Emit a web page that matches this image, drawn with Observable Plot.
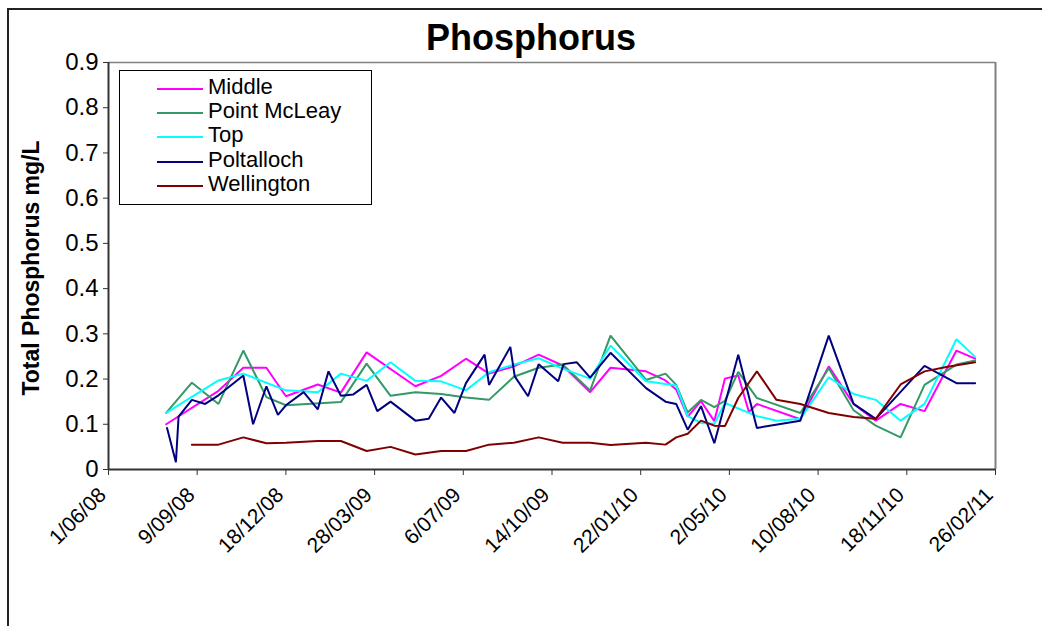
<!DOCTYPE html>
<html>
<head>
<meta charset="utf-8">
<script src="https://cdn.jsdelivr.net/npm/d3@7"></script>
<script src="https://cdn.jsdelivr.net/npm/@observablehq/plot@0.6"></script>
<style>
  html, body { margin: 0; padding: 0; background: #fff; }
  body { font-family: Arial, "Liberation Sans", sans-serif; }
  #wrap { position: relative; width: 1042px; height: 626px; overflow: hidden; }
  #frame { position: absolute; left: 7px; top: 8px; width: 1100px; height: 700px;
           border-left: 2px solid #222; border-top: 2px solid #222; }
  #chart { position: absolute; left: 0; top: 0; }
  #title { position: absolute; left: 331px; width: 400px; top: 20px; text-align: center;
           font-size: 36px; line-height: 36px; font-weight: bold; color: #000; }
  #ylabel { position: absolute; left: -119px; width: 300px; top: 256px; height: 24px;
            line-height: 24px; text-align: center; font-size: 23px; font-weight: bold;
            transform: rotate(-90deg); white-space: nowrap; color: #000; }
  #legend { position: absolute; left: 119px; top: 70px; width: 251px; height: 133px;
            border: 1px solid #000; background: #fff; }
  .row { position: absolute; left: 0; height: 24px; line-height: 24px; font-size: 22px;
         white-space: nowrap; color: #000; }
  .sw { position: absolute; left: 37px; width: 46px; height: 0; border-top: 2px solid; }
  .lab { position: absolute; left: 88px; }
</style>
</head>
<body>
<div id="wrap">
  <div id="frame"></div>
  <div id="chart"></div>
  <div id="title">Phosphorus</div>
  <div id="ylabel">Total Phosphorus mg/L</div>
  <div id="legend"></div>
</div>
<script>
// ---- data ----
const seriesNames = ["Middle", "Point McLeay", "Top", "Poltalloch", "Wellington"];
const seriesColors = ["#FF00FF", "#339966", "#00FFFF", "#000080", "#800000"];

const middleDates = ["2008-08-05","2008-10-03","2008-10-31","2008-11-26","2008-12-18","2009-01-23","2009-02-18","2009-03-19","2009-05-13","2009-06-11","2009-07-09","2009-08-04","2009-09-01","2009-09-29","2009-10-26","2009-11-26","2009-12-19","2010-01-28","2010-02-19","2010-03-03","2010-03-16","2010-03-31","2010-04-15","2010-04-27","2010-05-12","2010-05-24","2010-06-02","2010-07-21","2010-08-22","2010-09-19","2010-10-14","2010-11-11","2010-12-08","2011-01-13","2011-02-03"];
const middleValues = [0.100,0.174,0.225,0.225,0.162,0.188,0.170,0.259,0.184,0.207,0.245,0.212,0.228,0.254,0.230,0.171,0.225,0.217,0.197,0.177,0.117,0.151,0.107,0.201,0.208,0.127,0.145,0.111,0.228,0.145,0.108,0.145,0.129,0.263,0.245];

const pointMcLeayDates = ["2008-08-05","2008-09-03","2008-10-03","2008-10-31","2008-11-26","2008-12-18","2009-02-18","2009-03-19","2009-04-15","2009-05-13","2009-06-11","2009-07-09","2009-08-04","2009-09-01","2009-09-29","2009-10-26","2009-11-26","2009-12-19","2010-01-28","2010-02-19","2010-03-03","2010-03-16","2010-03-31","2010-04-15","2010-04-27","2010-05-12","2010-06-02","2010-07-21","2010-08-22","2010-09-19","2010-10-14","2010-11-11","2010-12-08","2011-01-13","2011-02-03"];
const pointMcLeayValues = [0.125,0.192,0.145,0.263,0.160,0.142,0.149,0.234,0.163,0.171,0.167,0.159,0.154,0.205,0.225,0.232,0.175,0.296,0.198,0.212,0.187,0.126,0.154,0.138,0.152,0.216,0.158,0.125,0.224,0.131,0.097,0.071,0.187,0.232,0.241];

const topDates = ["2008-08-05","2008-10-03","2008-10-31","2008-12-18","2009-01-23","2009-02-18","2009-03-19","2009-04-15","2009-05-13","2009-06-11","2009-07-09","2009-08-04","2009-09-01","2009-09-29","2009-10-26","2009-11-26","2009-12-19","2010-01-28","2010-03-03","2010-03-16","2010-03-31","2010-04-15","2010-04-27","2010-06-02","2010-06-24","2010-07-21","2010-08-22","2010-09-19","2010-10-14","2010-11-11","2010-12-08","2011-01-13","2011-02-03"];
const topValues = [0.125,0.197,0.212,0.175,0.171,0.212,0.196,0.237,0.196,0.195,0.175,0.215,0.232,0.246,0.223,0.201,0.274,0.195,0.186,0.118,0.103,0.101,0.147,0.118,0.108,0.112,0.204,0.167,0.154,0.108,0.145,0.288,0.249];

const poltallochDates = ["2008-08-06","2008-08-16","2008-08-19","2008-09-03","2008-09-18","2008-10-03","2008-10-31","2008-11-11","2008-11-26","2008-12-09","2008-12-18","2009-01-07","2009-01-23","2009-02-04","2009-02-18","2009-03-04","2009-03-19","2009-03-31","2009-04-15","2009-05-13","2009-05-28","2009-06-11","2009-06-26","2009-07-09","2009-07-30","2009-08-04","2009-08-28","2009-09-02","2009-09-17","2009-09-29","2009-10-21","2009-10-27","2009-11-11","2009-11-26","2009-12-19","2010-01-28","2010-02-19","2010-03-03","2010-03-16","2010-03-31","2010-04-15","2010-05-12","2010-06-02","2010-07-21","2010-08-22","2010-09-19","2010-10-14","2010-12-08","2011-01-13","2011-02-03"];
const poltallochValues = [0.092,0.016,0.117,0.154,0.145,0.164,0.208,0.100,0.184,0.121,0.142,0.171,0.133,0.217,0.163,0.166,0.187,0.129,0.150,0.108,0.112,0.159,0.125,0.191,0.254,0.187,0.271,0.206,0.162,0.233,0.195,0.233,0.237,0.203,0.258,0.180,0.150,0.145,0.088,0.140,0.058,0.254,0.092,0.108,0.296,0.145,0.112,0.229,0.191,0.191];

const wellingtonDates = ["2008-09-03","2008-10-03","2008-10-31","2008-11-26","2008-12-18","2009-01-23","2009-02-18","2009-03-19","2009-04-15","2009-05-13","2009-06-11","2009-07-09","2009-08-04","2009-09-01","2009-09-29","2009-10-26","2009-11-26","2009-12-19","2010-01-28","2010-02-19","2010-03-03","2010-03-16","2010-03-31","2010-04-15","2010-04-27","2010-05-12","2010-06-02","2010-06-24","2010-07-21","2010-08-22","2010-09-19","2010-10-14","2010-11-11","2010-12-08","2011-01-03","2011-02-03"];
const wellingtonValues = [0.055,0.055,0.071,0.058,0.059,0.063,0.063,0.041,0.050,0.033,0.041,0.041,0.055,0.059,0.071,0.059,0.059,0.054,0.059,0.055,0.071,0.079,0.108,0.097,0.096,0.158,0.217,0.154,0.145,0.125,0.116,0.112,0.188,0.217,0.227,0.237];

const xTickLabels = ["1/06/08","9/09/08","18/12/08","28/03/09","6/07/09","14/10/09","22/01/10","2/05/10","10/08/10","18/11/10","26/02/11"];
const yTicks = [0,0.1,0.2,0.3,0.4,0.5,0.6,0.7,0.8,0.9];
const yTickLabels = ["0","0.1","0.2","0.3","0.4","0.5","0.6","0.7","0.8","0.9"];

// ---- build table ----
const seriesDates = [middleDates, pointMcLeayDates, topDates, poltallochDates, wellingtonDates];
const seriesValues = [middleValues, pointMcLeayValues, topValues, poltallochValues, wellingtonValues];
const rows = [];
seriesNames.forEach((name, s) => {
  seriesDates[s].forEach((d, i) => rows.push({series: name, date: new Date(d + "T00:00:00Z"), value: seriesValues[s][i]}));
});
const parseTick = d3.utcParse("%d/%m/%y");
const xTicks = xTickLabels.map(parseTick);
const xStart = xTicks[0], xEnd = xTicks[xTicks.length - 1];
const tickLabelOf = d => xTickLabels[xTicks.findIndex(t => +t === +d)];
const yLabelOf = d => yTickLabels[yTicks.findIndex(t => Math.abs(t - d) < 1e-9)];

const chart = Plot.plot({
  width: 1042, height: 626,
  marginLeft: 108, marginRight: 47, marginTop: 62, marginBottom: 157,
  style: {fontFamily: "Arial, 'Liberation Sans', sans-serif", color: "#000", background: "transparent", overflow: "visible"},
  x: {type: "utc", domain: [xStart, xEnd]},
  y: {domain: [0, 0.9]},
  color: {domain: seriesNames, range: seriesColors},
  marks: [
    Plot.ruleY([0.9], {stroke: "#808080", strokeWidth: 1.5}),
    Plot.ruleX([xEnd], {stroke: "#808080", strokeWidth: 2}),
    Plot.line(rows, {x: "date", y: "value", z: "series", stroke: "series", strokeWidth: 2, strokeLinejoin: "miter"}),
    Plot.ruleY([0], {stroke: "#333", strokeWidth: 2}),
    Plot.ruleX([xStart], {stroke: "#333", strokeWidth: 2}),
    Plot.axisY(yTicks, {tickFormat: yLabelOf, tickSize: 5, tickPadding: 5, fontSize: 24, label: null, stroke: "#333"}),
    Plot.axisX(xTicks, {tickFormat: () => "", tickSize: 6, label: null, stroke: "#333"}),
    Plot.axisX(xTicks, {tickFormat: tickLabelOf, tickRotate: -45, tickSize: 0, tickPadding: 22, dx: -6, fontSize: 21, label: null})
  ]
});
document.getElementById("chart").appendChild(chart);

// ---- legend ----
const legend = document.getElementById("legend");
seriesNames.forEach((name, i) => {
  const row = document.createElement("div");
  row.className = "row";
  row.style.top = (3.7 + 24.3 * i) + "px";
  row.style.width = "250px";
  const sw = document.createElement("div");
  sw.className = "sw";
  sw.style.top = "13px";
  sw.style.borderTopColor = seriesColors[i];
  const lab = document.createElement("span");
  lab.className = "lab";
  lab.textContent = name;
  row.appendChild(sw);
  row.appendChild(lab);
  legend.appendChild(row);
});
</script>
</body>
</html>
